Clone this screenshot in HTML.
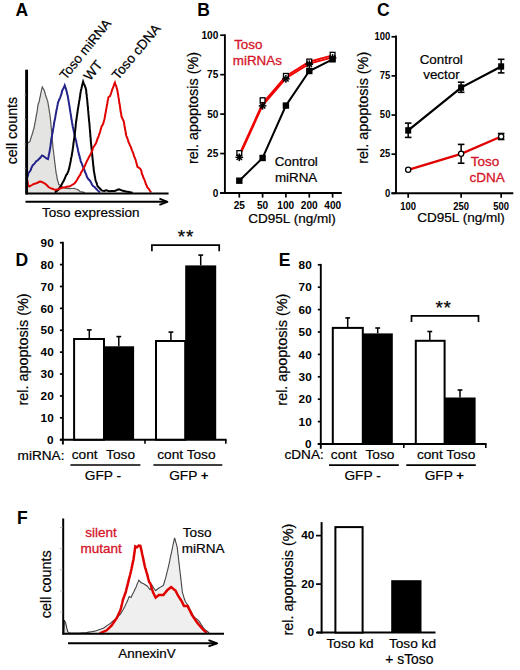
<!DOCTYPE html>
<html><head><meta charset="utf-8"><style>
html,body{margin:0;padding:0;background:#fff;}
svg{display:block;}
text{font-family:"Liberation Sans", sans-serif;}
</style></head><body>
<svg width="520" height="670" viewBox="0 0 520 670">
<rect width="520" height="670" fill="#fff"/>
<text x="15.39" y="15.90" font-size="17.5" font-weight="bold" fill="#000" >A</text>
<text x="197.27" y="15.60" font-size="17.5" font-weight="bold" fill="#000" >B</text>
<text x="376.97" y="15.60" font-size="17.5" font-weight="bold" fill="#000" >C</text>
<text x="15.47" y="265.80" font-size="17.5" font-weight="bold" fill="#000" >D</text>
<text x="278.77" y="266.00" font-size="17.5" font-weight="bold" fill="#000" >E</text>
<text x="16.97" y="524.00" font-size="17.5" font-weight="bold" fill="#000" >F</text>
<path d="M27.0,143.8 L28.4,142.5 L29.7,141.8 L30.2,140.9 L30.6,138.7 L31.1,137.9 L31.5,135.9 L32.0,135.0 L32.4,133.3 L32.8,132.7 L33.2,130.5 L33.6,129.5 L34.0,128.0 L34.3,126.5 L34.6,125.1 L34.9,123.7 L35.1,122.0 L35.4,121.2 L35.7,119.0 L36.0,118.0 L36.2,116.2 L36.5,114.5 L36.8,113.3 L37.0,112.0 L37.2,110.5 L37.4,109.6 L37.6,107.7 L37.8,106.0 L38.0,105.0 L38.5,103.1 L39.0,102.2 L39.5,100.0 L39.8,97.9 L40.2,96.8 L40.5,95.0 L40.8,93.2 L41.2,91.8 L41.5,90.0 L41.9,88.3 L42.3,87.0 L43.5,89.0 L44.5,91.0 L44.8,92.5 L45.2,93.7 L45.5,95.0 L46.0,96.5 L46.5,98.1 L47.0,99.0 L47.3,100.4 L47.7,101.3 L48.0,103.0 L48.2,104.0 L48.5,106.3 L48.8,107.3 L49.0,108.8 L49.2,110.0 L49.5,112.3 L49.8,113.5 L50.0,115.0 L50.1,116.7 L50.3,118.2 L50.4,119.1 L50.6,120.6 L50.7,122.5 L50.9,123.2 L51.0,125.0 L51.1,126.6 L51.2,127.3 L51.4,129.3 L51.5,130.7 L51.6,132.3 L51.8,133.6 L51.9,134.6 L52.0,136.0 L52.1,137.2 L52.2,138.6 L52.4,140.4 L52.5,141.9 L52.6,142.9 L52.8,145.2 L52.9,146.2 L53.0,147.7 L53.2,149.3 L53.3,150.2 L53.5,151.5 L53.7,152.7 L53.8,154.4 L54.0,155.7 L54.2,157.2 L54.3,158.5 L54.5,160.0 L54.7,161.7 L54.8,163.1 L55.0,163.7 L55.2,165.2 L55.3,166.3 L55.5,168.2 L55.7,169.8 L55.8,170.4 L56.0,172.0 L56.2,173.6 L56.5,174.5 L56.8,175.5 L57.0,177.6 L57.2,178.5 L57.5,180.0 L57.9,181.2 L58.4,183.0 L58.8,184.6 L60.4,185.5 L62.0,187.0 L63.3,187.4 L64.7,187.9 L66.0,188.5 L67.7,188.4 L69.3,188.6 L71.0,188.5 L72.7,188.5 L74.3,188.4 L76.0,189.0 L77.3,189.4 L78.7,190.3 L80.0,191.5 L81.7,191.8 L83.3,192.2 L85.0,192.5 L85,193 L27,193 Z" fill="#e4e4e2" stroke="none"/>
<path d="M27.0,143.8 L28.4,142.5 L29.7,141.8 L30.2,140.9 L30.6,138.7 L31.1,137.9 L31.5,135.9 L32.0,135.0 L32.4,133.3 L32.8,132.7 L33.2,130.5 L33.6,129.5 L34.0,128.0 L34.3,126.5 L34.6,125.1 L34.9,123.7 L35.1,122.0 L35.4,121.2 L35.7,119.0 L36.0,118.0 L36.2,116.2 L36.5,114.5 L36.8,113.3 L37.0,112.0 L37.2,110.5 L37.4,109.6 L37.6,107.7 L37.8,106.0 L38.0,105.0 L38.5,103.1 L39.0,102.2 L39.5,100.0 L39.8,97.9 L40.2,96.8 L40.5,95.0 L40.8,93.2 L41.2,91.8 L41.5,90.0 L41.9,88.3 L42.3,87.0 L43.5,89.0 L44.5,91.0 L44.8,92.5 L45.2,93.7 L45.5,95.0 L46.0,96.5 L46.5,98.1 L47.0,99.0 L47.3,100.4 L47.7,101.3 L48.0,103.0 L48.2,104.0 L48.5,106.3 L48.8,107.3 L49.0,108.8 L49.2,110.0 L49.5,112.3 L49.8,113.5 L50.0,115.0 L50.1,116.7 L50.3,118.2 L50.4,119.1 L50.6,120.6 L50.7,122.5 L50.9,123.2 L51.0,125.0 L51.1,126.6 L51.2,127.3 L51.4,129.3 L51.5,130.7 L51.6,132.3 L51.8,133.6 L51.9,134.6 L52.0,136.0 L52.1,137.2 L52.2,138.6 L52.4,140.4 L52.5,141.9 L52.6,142.9 L52.8,145.2 L52.9,146.2 L53.0,147.7 L53.2,149.3 L53.3,150.2 L53.5,151.5 L53.7,152.7 L53.8,154.4 L54.0,155.7 L54.2,157.2 L54.3,158.5 L54.5,160.0 L54.7,161.7 L54.8,163.1 L55.0,163.7 L55.2,165.2 L55.3,166.3 L55.5,168.2 L55.7,169.8 L55.8,170.4 L56.0,172.0 L56.2,173.6 L56.5,174.5 L56.8,175.5 L57.0,177.6 L57.2,178.5 L57.5,180.0 L57.9,181.2 L58.4,183.0 L58.8,184.6 L60.4,185.5 L62.0,187.0 L63.3,187.4 L64.7,187.9 L66.0,188.5 L67.7,188.4 L69.3,188.6 L71.0,188.5 L72.7,188.5 L74.3,188.4 L76.0,189.0 L77.3,189.4 L78.7,190.3 L80.0,191.5 L81.7,191.8 L83.3,192.2 L85.0,192.5" stroke="#555" stroke-width="1.2" fill="none" />
<path d="M27.0,178.0 L27.5,176.9 L28.0,175.2 L28.5,173.0 L30.5,170.5 L31.3,168.1 L32.2,166.3 L33.0,165.0 L34.5,163.7 L36.0,161.5 L37.5,160.5 L39.0,159.0 L40.5,157.5 L42.0,155.5 L43.5,156.2 L45.0,157.3 L46.5,158.3 L48.0,159.1 L48.3,157.8 L48.6,156.4 L48.9,154.4 L49.2,153.3 L49.5,152.0 L49.7,150.4 L49.9,149.4 L50.1,148.2 L50.4,146.7 L50.6,144.8 L50.8,143.2 L51.0,141.8 L51.2,140.0 L51.5,138.3 L51.8,136.8 L52.0,135.9 L52.2,134.2 L52.5,132.8 L52.8,131.9 L53.0,130.0 L53.2,128.6 L53.5,127.2 L53.8,125.4 L54.0,123.7 L54.2,122.6 L54.5,120.9 L54.8,119.9 L55.0,118.5 L55.2,117.7 L55.5,115.9 L55.8,113.9 L56.0,113.3 L56.2,111.8 L56.5,110.0 L56.8,108.9 L57.1,107.7 L57.3,106.1 L57.6,104.7 L57.9,103.0 L58.7,100.8 L59.5,99.0 L60.2,97.6 L61.0,95.0 L61.5,93.9 L62.0,91.3 L62.5,90.0 L63.2,88.8 L64.0,87.3 L64.7,85.5 L65.3,87.2 L66.0,89.0 L66.4,90.6 L66.8,92.1 L67.2,94.2 L67.6,95.2 L67.9,96.8 L68.2,98.7 L68.4,99.7 L68.7,101.9 L69.0,103.0 L69.2,105.1 L69.5,106.1 L69.7,107.8 L70.0,109.8 L70.2,111.1 L70.4,112.4 L70.7,113.7 L70.9,115.6 L71.2,117.0 L71.4,119.0 L71.7,119.9 L72.0,122.4 L72.2,123.2 L72.5,125.0 L72.8,127.0 L73.1,127.8 L73.5,130.0 L73.8,131.2 L74.1,132.5 L74.4,134.0 L74.8,135.5 L75.1,137.2 L75.5,138.6 L75.8,139.8 L76.2,141.1 L76.5,143.0 L76.8,144.4 L77.1,146.4 L77.4,147.4 L77.7,148.2 L78.0,150.5 L78.3,151.5 L78.7,153.3 L79.1,155.0 L79.5,155.6 L79.8,157.8 L80.2,158.5 L80.6,160.7 L81.0,162.0 L81.6,163.1 L82.2,164.5 L82.8,166.7 L83.4,167.1 L84.0,169.0 L84.6,170.6 L85.2,172.6 L85.8,173.5 L86.4,175.1 L87.0,177.0 L88.5,179.3 L90.0,180.7 L91.0,182.4 L92.0,184.5 L93.0,186.0 L94.6,186.9 L96.1,188.8 L97.7,190.4 L100.0,192.5" stroke="#22228a" stroke-width="2" fill="none" />
<path d="M55.0,192.5 L56.8,191.0 L58.5,189.5 L59.6,187.6 L60.6,186.3 L61.7,184.6 L62.5,182.8 L63.4,181.4 L64.2,179.8 L65.0,178.0 L65.7,176.2 L66.4,174.7 L67.1,174.1 L67.8,172.2 L68.5,171.0 L68.8,169.2 L69.2,168.5 L69.5,166.5 L69.8,165.3 L70.2,163.5 L70.5,162.0 L70.8,160.6 L71.0,158.7 L71.3,157.6 L71.6,156.4 L71.9,154.5 L72.1,153.2 L72.4,151.5 L72.6,150.3 L72.8,148.2 L73.0,147.5 L73.2,146.0 L73.4,144.3 L73.5,142.6 L73.7,142.0 L73.9,140.2 L74.1,139.0 L74.3,137.8 L74.5,136.0 L74.7,134.8 L74.8,133.6 L75.0,131.7 L75.2,130.7 L75.3,128.9 L75.5,128.0 L75.6,126.5 L75.8,124.3 L76.0,123.0 L76.1,121.6 L76.3,120.5 L76.5,119.5 L76.7,117.4 L76.9,116.1 L77.2,114.3 L77.4,113.0 L77.6,111.4 L77.8,110.0 L78.0,108.4 L78.3,107.1 L78.5,105.6 L78.7,104.4 L79.0,102.7 L79.2,101.0 L79.5,99.9 L79.7,98.2 L80.0,96.8 L80.2,94.9 L80.5,92.8 L80.7,91.9 L81.0,90.0 L81.3,89.1 L81.7,87.6 L82.0,85.9 L82.4,84.6 L82.8,82.7 L83.1,81.6 L83.8,83.6 L84.5,85.0 L85.0,86.5 L85.5,87.7 L86.0,89.4 L86.2,90.4 L86.3,92.6 L86.5,94.2 L86.7,94.7 L86.8,96.9 L87.0,98.0 L87.1,99.5 L87.3,100.7 L87.4,102.4 L87.6,104.4 L87.7,106.1 L87.9,106.8 L88.0,108.8 L88.1,110.4 L88.3,111.3 L88.4,113.4 L88.5,114.5 L88.7,116.5 L88.8,118.1 L89.0,119.1 L89.1,121.1 L89.2,121.9 L89.4,123.1 L89.5,125.0 L89.6,126.5 L89.7,127.3 L89.8,128.9 L90.0,130.5 L90.1,132.1 L90.2,133.1 L90.3,134.3 L90.4,136.6 L90.6,137.4 L90.7,139.5 L90.8,140.8 L90.9,141.8 L91.0,143.1 L91.2,144.7 L91.3,146.2 L91.5,147.8 L91.6,149.2 L91.8,150.7 L91.9,152.2 L92.1,154.0 L92.2,155.0 L92.4,156.5 L92.5,157.8 L92.7,159.6 L92.8,160.6 L93.0,162.1 L93.1,164.2 L93.3,165.2 L93.4,166.7 L93.6,167.6 L93.7,169.5 L93.9,171.0 L94.2,172.6 L94.4,173.5 L94.7,175.6 L95.0,177.1 L95.2,178.1 L95.5,180.0 L96.1,181.8 L96.7,183.2 L97.2,185.1 L97.8,186.5 L99.7,188.3 L101.6,190.4 L103.0,190.7 L104.4,190.9 L105.8,190.3 L107.2,190.5 L108.6,191.1 L110.0,191.2 L111.5,191.0 L113.0,191.0 L114.5,191.1 L116.0,190.5 L117.5,189.7 L119.0,189.4 L120.5,189.9 L122.0,190.5 L124.0,191.0 L126.0,191.5 L127.7,191.8 L129.3,192.1 L131.0,192.4 L132.7,192.7" stroke="#000" stroke-width="2" fill="none" />
<path d="M27.0,178.7 L27.2,180.0 L27.5,181.4 L27.8,183.3 L28.0,185.0 L29.3,186.5 L32.0,185.0 L33.8,183.9 L35.5,183.6 L38.0,182.5 L39.7,181.6 L41.4,181.7 L44.0,183.0 L46.2,184.6 L48.5,187.0 L51.0,188.4 L52.5,188.8 L54.0,189.4 L55.5,189.9 L56.9,189.4 L58.5,189.3 L60.0,188.5 L62.7,187.5 L64.3,187.6 L66.0,187.0 L67.8,186.4 L69.5,186.5 L72.0,185.0 L74.4,183.6 L75.7,181.8 L77.0,180.0 L78.1,178.0 L79.1,176.2 L80.2,174.9 L80.9,173.0 L81.6,171.6 L82.3,171.0 L83.0,169.0 L83.8,167.9 L84.5,166.5 L85.2,165.0 L86.0,163.2 L86.8,161.3 L87.5,159.9 L88.2,158.7 L89.0,157.0 L89.9,155.4 L90.9,153.8 L91.8,151.5 L92.4,150.5 L92.9,148.0 L93.5,147.0 L94.6,145.5 L95.7,143.8 L96.3,142.4 L96.9,140.7 L97.5,138.7 L98.1,137.5 L98.7,136.0 L99.2,133.9 L99.7,133.3 L100.2,131.6 L100.7,129.6 L101.2,127.7 L101.7,126.3 L102.7,124.8 L103.6,122.4 L103.9,120.9 L104.3,119.7 L104.7,118.0 L105.0,116.0 L105.3,114.4 L105.6,112.7 L105.9,111.3 L106.2,109.4 L106.5,107.9 L106.8,106.0 L107.0,104.6 L107.3,103.7 L107.6,101.2 L107.9,99.7 L108.1,98.9 L108.4,97.2 L110.0,96.0 L111.0,93.5 L111.7,91.2 L112.3,89.4 L113.0,87.7 L113.6,86.0 L114.2,84.1 L114.9,82.6 L115.5,84.9 L116.1,85.6 L116.6,87.6 L117.2,89.4 L117.4,90.5 L117.7,92.5 L117.9,93.5 L118.2,95.0 L118.4,96.9 L118.6,97.9 L118.9,99.6 L119.1,101.0 L119.3,103.1 L119.6,103.7 L119.8,105.3 L120.1,107.1 L120.3,109.0 L120.5,110.8 L120.8,112.2 L121.0,113.2 L121.3,114.9 L121.5,116.6 L122.1,117.7 L122.8,119.5 L123.4,120.4 L124.0,122.4 L124.2,124.1 L124.5,125.8 L124.7,127.3 L125.0,128.5 L125.2,130.2 L125.4,130.5 L125.7,132.3 L125.9,134.0 L126.4,136.0 L126.9,137.3 L127.4,138.3 L127.9,139.9 L128.5,142.0 L129.2,143.3 L129.8,145.1 L130.4,146.1 L131.1,147.6 L131.7,149.6 L132.3,151.1 L132.9,152.3 L133.5,154.1 L134.1,156.4 L134.7,157.4 L135.2,158.8 L135.7,160.0 L136.1,161.7 L136.6,163.4 L137.1,165.7 L137.6,167.0 L139.1,167.8 L140.5,169.0 L141.0,170.2 L141.5,171.4 L141.9,174.0 L142.4,174.8 L142.9,176.0 L143.4,177.8 L144.1,178.9 L144.7,180.5 L145.4,182.3 L146.0,184.5 L146.7,185.5 L147.3,187.5 L148.6,188.6 L149.9,190.8 L151.2,192.5" stroke="#e00000" stroke-width="2" fill="none" />
<line x1="26.60" y1="69.70" x2="26.60" y2="194.50" stroke="#000" stroke-width="2.9" />
<line x1="26.00" y1="193.40" x2="168.60" y2="193.40" stroke="#000" stroke-width="2" />
<line x1="24.00" y1="95.00" x2="26.00" y2="95.00" stroke="#aaa" stroke-width="0.8" />
<line x1="24.00" y1="119.50" x2="26.00" y2="119.50" stroke="#aaa" stroke-width="0.8" />
<line x1="24.00" y1="144.00" x2="26.00" y2="144.00" stroke="#aaa" stroke-width="0.8" />
<line x1="24.00" y1="168.50" x2="26.00" y2="168.50" stroke="#aaa" stroke-width="0.8" />
<line x1="25.50" y1="201.80" x2="167.00" y2="201.80" stroke="#000" stroke-width="2" />
<path d="M159.4,198.7 L167.4,201.8 L159.4,204.9" stroke="#000" stroke-width="1.9" fill="none" stroke-linejoin="round"/>
<text x="41.98" y="217.40" font-size="13.5" font-weight="normal" fill="#000" stroke="#000" stroke-width="0.2" >Toso expression</text>
<text x="0" y="0" transform="translate(17.40,164.33) rotate(-90)" font-size="14.3" font-weight="normal" fill="#000" stroke="#000" stroke-width="0.2" >cell counts</text>
<text x="0" y="0" transform="translate(65.70,80.50) rotate(-51)" font-size="13.2" font-weight="normal" fill="#000" stroke="#000" stroke-width="0.2" >Toso miRNA</text>
<text x="0" y="0" transform="translate(90.00,81.50) rotate(-51)" font-size="13.5" font-weight="normal" fill="#000" stroke="#000" stroke-width="0.2" >WT</text>
<text x="0" y="0" transform="translate(117.90,80.70) rotate(-50)" font-size="13.5" font-weight="normal" fill="#000" stroke="#000" stroke-width="0.2" >Toso cDNA</text>
<line x1="224.90" y1="34.30" x2="224.90" y2="193.90" stroke="#000" stroke-width="1.9" />
<line x1="220.00" y1="193.00" x2="341.80" y2="193.00" stroke="#000" stroke-width="1.9" />
<line x1="220.20" y1="35.20" x2="224.90" y2="35.20" stroke="#000" stroke-width="1.7" />
<text x="0" y="0" transform="translate(201.46,38.90) scale(0.92,1)" font-size="11" font-weight="bold" fill="#000" >100</text>
<line x1="220.20" y1="74.65" x2="224.90" y2="74.65" stroke="#000" stroke-width="1.7" />
<text x="0" y="0" transform="translate(207.04,78.35) scale(0.92,1)" font-size="11" font-weight="bold" fill="#000" >75</text>
<line x1="220.20" y1="114.10" x2="224.90" y2="114.10" stroke="#000" stroke-width="1.7" />
<text x="0" y="0" transform="translate(207.16,117.80) scale(0.92,1)" font-size="11" font-weight="bold" fill="#000" >50</text>
<line x1="220.20" y1="153.55" x2="224.90" y2="153.55" stroke="#000" stroke-width="1.7" />
<text x="0" y="0" transform="translate(207.04,157.25) scale(0.92,1)" font-size="11" font-weight="bold" fill="#000" >25</text>
<line x1="220.20" y1="193.00" x2="224.90" y2="193.00" stroke="#000" stroke-width="1.7" />
<text x="0" y="0" transform="translate(212.64,196.70) scale(0.92,1)" font-size="11" font-weight="bold" fill="#000" >0</text>
<line x1="239.30" y1="193.00" x2="239.30" y2="197.60" stroke="#000" stroke-width="1.7" />
<text x="0" y="0" transform="translate(233.66,208.90) scale(0.92,1)" font-size="11" font-weight="bold" fill="#000" >25</text>
<line x1="262.60" y1="193.00" x2="262.60" y2="197.60" stroke="#000" stroke-width="1.7" />
<text x="0" y="0" transform="translate(256.89,208.90) scale(0.92,1)" font-size="11" font-weight="bold" fill="#000" >50</text>
<line x1="285.90" y1="193.00" x2="285.90" y2="197.60" stroke="#000" stroke-width="1.7" />
<text x="0" y="0" transform="translate(277.27,208.90) scale(0.92,1)" font-size="11" font-weight="bold" fill="#000" >100</text>
<line x1="309.30" y1="193.00" x2="309.30" y2="197.60" stroke="#000" stroke-width="1.7" />
<text x="0" y="0" transform="translate(300.87,208.90) scale(0.92,1)" font-size="11" font-weight="bold" fill="#000" >200</text>
<line x1="332.60" y1="193.00" x2="332.60" y2="197.60" stroke="#000" stroke-width="1.7" />
<text x="0" y="0" transform="translate(324.27,208.90) scale(0.92,1)" font-size="11" font-weight="bold" fill="#000" >400</text>
<text x="248.23" y="223.30" font-size="13.55" font-weight="normal" fill="#000" stroke="#000" stroke-width="0.2" >CD95L (ng/ml)</text>
<text x="0" y="0" transform="translate(198.10,163.96) rotate(-90)" font-size="14.4" font-weight="normal" fill="#000" stroke="#000" stroke-width="0.2" >rel. apoptosis (%)</text>
<path d="M239.3,154.7 L262.6,103.3 L285.9,76.3 L309.3,61.6 L332.6,55.3" stroke="#f00000" stroke-width="1.8" fill="none" />
<path d="M239.3,156.7 L262.6,105.3 L285.9,78.3 L309.3,63.6 L332.6,57.3" stroke="#f00000" stroke-width="1.9" fill="none" />
<path d="M239.3,180.7 L262.6,158.0 L285.9,105.6 L309.3,71.0 L332.6,59.3" stroke="#000" stroke-width="2" fill="none" />
<rect x="236.10" y="177.49" width="6.40" height="6.40" fill="#000"/>
<rect x="259.40" y="154.77" width="6.40" height="6.40" fill="#000"/>
<rect x="282.70" y="102.38" width="6.40" height="6.40" fill="#000"/>
<rect x="306.10" y="67.82" width="6.40" height="6.40" fill="#000"/>
<rect x="329.40" y="56.14" width="6.40" height="6.40" fill="#000"/>
<rect x="236.90" y="150.65" width="4.8" height="4.8" fill="#fff" stroke="#000" stroke-width="1.3"/>
<rect x="260.20" y="97.78" width="4.8" height="4.8" fill="#fff" stroke="#000" stroke-width="1.3"/>
<rect x="283.50" y="73.48" width="4.8" height="4.8" fill="#fff" stroke="#000" stroke-width="1.3"/>
<rect x="306.90" y="59.12" width="4.8" height="4.8" fill="#fff" stroke="#000" stroke-width="1.3"/>
<rect x="330.20" y="52.34" width="4.8" height="4.8" fill="#fff" stroke="#000" stroke-width="1.3"/>
<line x1="235.50" y1="157.31" x2="243.10" y2="157.31" stroke="#000" stroke-width="1.5" />
<line x1="236.61" y1="154.62" x2="241.99" y2="159.99" stroke="#000" stroke-width="1.5" />
<line x1="239.30" y1="153.51" x2="239.30" y2="161.11" stroke="#000" stroke-width="1.5" />
<line x1="241.99" y1="154.62" x2="236.61" y2="159.99" stroke="#000" stroke-width="1.5" />
<line x1="258.80" y1="105.86" x2="266.40" y2="105.86" stroke="#000" stroke-width="1.5" />
<line x1="259.91" y1="103.18" x2="265.29" y2="108.55" stroke="#000" stroke-width="1.5" />
<line x1="262.60" y1="102.06" x2="262.60" y2="109.66" stroke="#000" stroke-width="1.5" />
<line x1="265.29" y1="103.18" x2="259.91" y2="108.55" stroke="#000" stroke-width="1.5" />
<line x1="282.10" y1="78.88" x2="289.70" y2="78.88" stroke="#000" stroke-width="1.5" />
<line x1="283.21" y1="76.19" x2="288.59" y2="81.57" stroke="#000" stroke-width="1.5" />
<line x1="285.90" y1="75.08" x2="285.90" y2="82.68" stroke="#000" stroke-width="1.5" />
<line x1="288.59" y1="76.19" x2="283.21" y2="81.57" stroke="#000" stroke-width="1.5" />
<line x1="305.50" y1="64.20" x2="313.10" y2="64.20" stroke="#000" stroke-width="1.5" />
<line x1="306.61" y1="61.52" x2="311.99" y2="66.89" stroke="#000" stroke-width="1.5" />
<line x1="309.30" y1="60.40" x2="309.30" y2="68.00" stroke="#000" stroke-width="1.5" />
<line x1="311.99" y1="61.52" x2="306.61" y2="66.89" stroke="#000" stroke-width="1.5" />
<line x1="328.80" y1="57.89" x2="336.40" y2="57.89" stroke="#000" stroke-width="1.5" />
<line x1="329.91" y1="55.20" x2="335.29" y2="60.58" stroke="#000" stroke-width="1.5" />
<line x1="332.60" y1="54.09" x2="332.60" y2="61.69" stroke="#000" stroke-width="1.5" />
<line x1="335.29" y1="55.20" x2="329.91" y2="60.58" stroke="#000" stroke-width="1.5" />
<text x="234.14" y="49.20" font-size="13.4" font-weight="normal" fill="#d41428" stroke="#d41428" stroke-width="0.3" >Toso</text>
<text x="232.77" y="65.00" font-size="13.4" font-weight="normal" fill="#d41428" stroke="#d41428" stroke-width="0.3" >miRNAs</text>
<text x="274.66" y="165.80" font-size="13.4" font-weight="normal" fill="#000" stroke="#000" stroke-width="0.2" >Control</text>
<text x="274.89" y="181.70" font-size="13.4" font-weight="normal" fill="#000" stroke="#000" stroke-width="0.2" >miRNA</text>
<line x1="396.00" y1="35.50" x2="396.00" y2="194.00" stroke="#000" stroke-width="1.9" />
<line x1="391.50" y1="193.30" x2="513.30" y2="193.30" stroke="#000" stroke-width="1.9" />
<line x1="391.50" y1="36.78" x2="396.00" y2="36.78" stroke="#000" stroke-width="1.7" />
<text x="0" y="0" transform="translate(374.54,40.08) scale(0.86,1)" font-size="11" font-weight="bold" fill="#000" >100</text>
<line x1="391.50" y1="75.91" x2="396.00" y2="75.91" stroke="#000" stroke-width="1.7" />
<text x="0" y="0" transform="translate(379.76,79.21) scale(0.86,1)" font-size="11" font-weight="bold" fill="#000" >75</text>
<line x1="391.50" y1="115.04" x2="396.00" y2="115.04" stroke="#000" stroke-width="1.7" />
<text x="0" y="0" transform="translate(379.87,118.34) scale(0.86,1)" font-size="11" font-weight="bold" fill="#000" >50</text>
<line x1="391.50" y1="154.17" x2="396.00" y2="154.17" stroke="#000" stroke-width="1.7" />
<text x="0" y="0" transform="translate(379.76,157.47) scale(0.86,1)" font-size="11" font-weight="bold" fill="#000" >25</text>
<line x1="391.50" y1="193.30" x2="396.00" y2="193.30" stroke="#000" stroke-width="1.7" />
<text x="0" y="0" transform="translate(384.99,196.60) scale(0.86,1)" font-size="11" font-weight="bold" fill="#000" >0</text>
<line x1="408.20" y1="193.30" x2="408.20" y2="197.80" stroke="#000" stroke-width="1.7" />
<text x="0" y="0" transform="translate(400.13,209.90) scale(0.86,1)" font-size="11" font-weight="bold" fill="#000" >100</text>
<line x1="461.13" y1="193.30" x2="461.13" y2="197.80" stroke="#000" stroke-width="1.7" />
<text x="0" y="0" transform="translate(453.24,209.90) scale(0.86,1)" font-size="11" font-weight="bold" fill="#000" >250</text>
<line x1="501.16" y1="193.30" x2="501.16" y2="197.80" stroke="#000" stroke-width="1.7" />
<text x="0" y="0" transform="translate(493.16,209.90) scale(0.86,1)" font-size="11" font-weight="bold" fill="#000" >500</text>
<text x="417.23" y="221.90" font-size="13.55" font-weight="normal" fill="#000" stroke="#000" stroke-width="0.2" >CD95L (ng/ml)</text>
<text x="0" y="0" transform="translate(367.80,163.76) rotate(-90)" font-size="14.4" font-weight="normal" fill="#000" stroke="#000" stroke-width="0.2" >rel. apoptosis (%)</text>
<path d="M408.2,130.4 L461.1,87.6 L501.2,66.5" stroke="#000" stroke-width="2.3" fill="none" />
<path d="M408.2,169.8 L461.1,153.8 L501.2,136.5" stroke="#e00000" stroke-width="2.3" fill="none" />
<line x1="408.20" y1="123.10" x2="408.20" y2="137.40" stroke="#000" stroke-width="1.5" />
<line x1="404.90" y1="123.10" x2="411.50" y2="123.10" stroke="#000" stroke-width="1.6" />
<line x1="404.90" y1="137.40" x2="411.50" y2="137.40" stroke="#000" stroke-width="1.6" />
<line x1="461.13" y1="82.20" x2="461.13" y2="92.30" stroke="#000" stroke-width="1.5" />
<line x1="457.83" y1="82.20" x2="464.43" y2="82.20" stroke="#000" stroke-width="1.6" />
<line x1="457.83" y1="92.30" x2="464.43" y2="92.30" stroke="#000" stroke-width="1.6" />
<line x1="501.16" y1="59.30" x2="501.16" y2="72.90" stroke="#000" stroke-width="1.5" />
<line x1="497.86" y1="59.30" x2="504.46" y2="59.30" stroke="#000" stroke-width="1.6" />
<line x1="497.86" y1="72.90" x2="504.46" y2="72.90" stroke="#000" stroke-width="1.6" />
<line x1="461.13" y1="144.40" x2="461.13" y2="163.20" stroke="#000" stroke-width="1.5" />
<line x1="457.83" y1="144.40" x2="464.43" y2="144.40" stroke="#000" stroke-width="1.6" />
<line x1="457.83" y1="163.20" x2="464.43" y2="163.20" stroke="#000" stroke-width="1.6" />
<line x1="501.16" y1="133.50" x2="501.16" y2="139.50" stroke="#000" stroke-width="1.5" />
<line x1="497.86" y1="133.50" x2="504.46" y2="133.50" stroke="#000" stroke-width="1.6" />
<line x1="497.86" y1="139.50" x2="504.46" y2="139.50" stroke="#000" stroke-width="1.6" />
<rect x="405.20" y="127.20" width="6.00" height="6.40" fill="#000"/>
<rect x="458.13" y="84.40" width="6.00" height="6.40" fill="#000"/>
<rect x="498.16" y="63.30" width="6.00" height="6.40" fill="#000"/>
<circle cx="408.20" cy="169.8" r="2.6" fill="#fff" stroke="#000" stroke-width="1.3"/>
<circle cx="461.13" cy="153.8" r="2.6" fill="#fff" stroke="#000" stroke-width="1.3"/>
<circle cx="501.16" cy="136.5" r="2.6" fill="#fff" stroke="#000" stroke-width="1.3"/>
<text x="419.66" y="63.80" font-size="13.4" font-weight="normal" fill="#000" stroke="#000" stroke-width="0.2" >Control</text>
<text x="423.23" y="79.10" font-size="13.4" font-weight="normal" fill="#000" stroke="#000" stroke-width="0.2" >vector</text>
<text x="470.73" y="166.00" font-size="13.5" font-weight="normal" fill="#d41428" stroke="#d41428" stroke-width="0.3" >Toso</text>
<text x="469.44" y="182.00" font-size="13.5" font-weight="normal" fill="#d41428" stroke="#d41428" stroke-width="0.3" >cDNA</text>
<line x1="62.90" y1="241.79" x2="62.90" y2="444.50" stroke="#000" stroke-width="1.9" />
<line x1="59.90" y1="439.70" x2="226.60" y2="439.70" stroke="#000" stroke-width="1.9" />
<line x1="59.90" y1="439.70" x2="62.90" y2="439.70" stroke="#000" stroke-width="1.7" />
<text x="0" y="0" transform="translate(46.97,443.90) scale(1.07,1)" font-size="11" font-weight="bold" fill="#000" >0</text>
<line x1="59.90" y1="417.81" x2="62.90" y2="417.81" stroke="#000" stroke-width="1.7" />
<text x="0" y="0" transform="translate(40.59,422.01) scale(1.07,1)" font-size="11" font-weight="bold" fill="#000" >10</text>
<line x1="59.90" y1="395.92" x2="62.90" y2="395.92" stroke="#000" stroke-width="1.7" />
<text x="0" y="0" transform="translate(40.59,400.12) scale(1.07,1)" font-size="11" font-weight="bold" fill="#000" >20</text>
<line x1="59.90" y1="374.03" x2="62.90" y2="374.03" stroke="#000" stroke-width="1.7" />
<text x="0" y="0" transform="translate(40.59,378.23) scale(1.07,1)" font-size="11" font-weight="bold" fill="#000" >30</text>
<line x1="59.90" y1="352.14" x2="62.90" y2="352.14" stroke="#000" stroke-width="1.7" />
<text x="0" y="0" transform="translate(40.59,356.34) scale(1.07,1)" font-size="11" font-weight="bold" fill="#000" >40</text>
<line x1="59.90" y1="330.25" x2="62.90" y2="330.25" stroke="#000" stroke-width="1.7" />
<text x="0" y="0" transform="translate(40.59,334.45) scale(1.07,1)" font-size="11" font-weight="bold" fill="#000" >50</text>
<line x1="59.90" y1="308.36" x2="62.90" y2="308.36" stroke="#000" stroke-width="1.7" />
<text x="0" y="0" transform="translate(40.58,312.56) scale(1.07,1)" font-size="11" font-weight="bold" fill="#000" >60</text>
<line x1="59.90" y1="286.47" x2="62.90" y2="286.47" stroke="#000" stroke-width="1.7" />
<text x="0" y="0" transform="translate(40.59,290.67) scale(1.07,1)" font-size="11" font-weight="bold" fill="#000" >70</text>
<line x1="59.90" y1="264.58" x2="62.90" y2="264.58" stroke="#000" stroke-width="1.7" />
<text x="0" y="0" transform="translate(40.59,268.78) scale(1.07,1)" font-size="11" font-weight="bold" fill="#000" >80</text>
<line x1="59.90" y1="242.69" x2="62.90" y2="242.69" stroke="#000" stroke-width="1.7" />
<text x="0" y="0" transform="translate(40.59,246.89) scale(1.07,1)" font-size="11" font-weight="bold" fill="#000" >90</text>
<line x1="145.00" y1="439.70" x2="145.00" y2="443.70" stroke="#000" stroke-width="1.6" />
<line x1="225.80" y1="439.70" x2="225.80" y2="443.70" stroke="#000" stroke-width="1.6" />
<line x1="89.30" y1="329.90" x2="89.30" y2="339.00" stroke="#000" stroke-width="1.5" />
<line x1="86.90" y1="329.90" x2="91.70" y2="329.90" stroke="#000" stroke-width="1.6" />
<rect x="74.10" y="339.00" width="29.90" height="100.70" fill="#fff" stroke="#000" stroke-width="2"/>
<line x1="118.80" y1="336.60" x2="118.80" y2="346.30" stroke="#000" stroke-width="1.5" />
<line x1="116.40" y1="336.60" x2="121.20" y2="336.60" stroke="#000" stroke-width="1.6" />
<rect x="104.00" y="346.30" width="30.10" height="93.40" fill="#000"/>
<line x1="170.90" y1="332.10" x2="170.90" y2="341.00" stroke="#000" stroke-width="1.5" />
<line x1="168.50" y1="332.10" x2="173.30" y2="332.10" stroke="#000" stroke-width="1.6" />
<rect x="156.00" y="341.00" width="29.20" height="98.70" fill="#fff" stroke="#000" stroke-width="2"/>
<line x1="200.70" y1="255.10" x2="200.70" y2="265.40" stroke="#000" stroke-width="1.5" />
<line x1="198.30" y1="255.10" x2="203.10" y2="255.10" stroke="#000" stroke-width="1.6" />
<rect x="185.20" y="265.40" width="31.00" height="174.30" fill="#000"/>
<path d="M151.9,251.3 L151.9,245.1 L219.2,245.1 L219.2,251.3" stroke="#000" stroke-width="1.7" fill="none" />
<text x="177.70" y="243.10" font-size="19" font-weight="normal" fill="#000" stroke="#000" stroke-width="0.2" >*</text>
<text x="186.00" y="243.10" font-size="19" font-weight="normal" fill="#000" stroke="#000" stroke-width="0.2" >*</text>
<text x="17.62" y="459.80" font-size="13.6" font-weight="normal" fill="#000" stroke="#000" stroke-width="0.2" >miRNA:</text>
<text x="71.75" y="458.80" font-size="13.7" font-weight="normal" fill="#000" stroke="#000" stroke-width="0.2" >cont</text>
<text x="106.11" y="458.80" font-size="13.7" font-weight="normal" fill="#000" stroke="#000" stroke-width="0.2" >Toso</text>
<text x="157.22" y="458.80" font-size="13.7" font-weight="normal" fill="#000" stroke="#000" stroke-width="0.2" >cont Toso</text>
<line x1="70.40" y1="465.00" x2="140.40" y2="465.00" stroke="#000" stroke-width="1.7" />
<line x1="153.40" y1="465.00" x2="222.30" y2="465.00" stroke="#000" stroke-width="1.7" />
<text x="84.77" y="479.60" font-size="13.7" font-weight="normal" fill="#000" stroke="#000" stroke-width="0.2" >GFP -</text>
<text x="169.18" y="479.60" font-size="13.7" font-weight="normal" fill="#000" stroke="#000" stroke-width="0.2" >GFP</text>
<text x="0" y="0" transform="translate(27.50,405.46) rotate(-90)" font-size="14.4" font-weight="normal" fill="#000" stroke="#000" stroke-width="0.2" >rel. apoptosis (%)</text>
<text x="200.67" y="479.60" font-size="13.2" font-weight="bold" fill="#000" >+</text>
<line x1="320.80" y1="263.90" x2="320.80" y2="448.80" stroke="#000" stroke-width="1.9" />
<line x1="317.80" y1="444.00" x2="486.60" y2="444.00" stroke="#000" stroke-width="1.9" />
<line x1="317.80" y1="444.00" x2="320.80" y2="444.00" stroke="#000" stroke-width="1.7" />
<text x="0" y="0" transform="translate(304.97,448.20) scale(1.07,1)" font-size="11" font-weight="bold" fill="#000" >0</text>
<line x1="317.80" y1="421.60" x2="320.80" y2="421.60" stroke="#000" stroke-width="1.7" />
<text x="0" y="0" transform="translate(298.59,425.80) scale(1.07,1)" font-size="11" font-weight="bold" fill="#000" >10</text>
<line x1="317.80" y1="399.20" x2="320.80" y2="399.20" stroke="#000" stroke-width="1.7" />
<text x="0" y="0" transform="translate(298.59,403.40) scale(1.07,1)" font-size="11" font-weight="bold" fill="#000" >20</text>
<line x1="317.80" y1="376.80" x2="320.80" y2="376.80" stroke="#000" stroke-width="1.7" />
<text x="0" y="0" transform="translate(298.59,381.00) scale(1.07,1)" font-size="11" font-weight="bold" fill="#000" >30</text>
<line x1="317.80" y1="354.40" x2="320.80" y2="354.40" stroke="#000" stroke-width="1.7" />
<text x="0" y="0" transform="translate(298.59,358.60) scale(1.07,1)" font-size="11" font-weight="bold" fill="#000" >40</text>
<line x1="317.80" y1="332.00" x2="320.80" y2="332.00" stroke="#000" stroke-width="1.7" />
<text x="0" y="0" transform="translate(298.59,336.20) scale(1.07,1)" font-size="11" font-weight="bold" fill="#000" >50</text>
<line x1="317.80" y1="309.60" x2="320.80" y2="309.60" stroke="#000" stroke-width="1.7" />
<text x="0" y="0" transform="translate(298.58,313.80) scale(1.07,1)" font-size="11" font-weight="bold" fill="#000" >60</text>
<line x1="317.80" y1="287.20" x2="320.80" y2="287.20" stroke="#000" stroke-width="1.7" />
<text x="0" y="0" transform="translate(298.59,291.40) scale(1.07,1)" font-size="11" font-weight="bold" fill="#000" >70</text>
<line x1="317.80" y1="264.80" x2="320.80" y2="264.80" stroke="#000" stroke-width="1.7" />
<text x="0" y="0" transform="translate(298.59,269.00) scale(1.07,1)" font-size="11" font-weight="bold" fill="#000" >80</text>
<line x1="403.80" y1="444.00" x2="403.80" y2="448.00" stroke="#000" stroke-width="1.6" />
<line x1="485.80" y1="444.00" x2="485.80" y2="448.00" stroke="#000" stroke-width="1.6" />
<line x1="347.70" y1="317.90" x2="347.70" y2="327.90" stroke="#000" stroke-width="1.5" />
<line x1="345.30" y1="317.90" x2="350.10" y2="317.90" stroke="#000" stroke-width="1.6" />
<rect x="332.80" y="327.90" width="30.00" height="116.10" fill="#fff" stroke="#000" stroke-width="2"/>
<line x1="377.70" y1="328.00" x2="377.70" y2="333.40" stroke="#000" stroke-width="1.5" />
<line x1="375.30" y1="328.00" x2="380.10" y2="328.00" stroke="#000" stroke-width="1.6" />
<rect x="362.80" y="333.40" width="30.00" height="110.60" fill="#000"/>
<line x1="429.80" y1="331.50" x2="429.80" y2="340.80" stroke="#000" stroke-width="1.5" />
<line x1="427.40" y1="331.50" x2="432.20" y2="331.50" stroke="#000" stroke-width="1.6" />
<rect x="415.80" y="340.80" width="28.80" height="103.20" fill="#fff" stroke="#000" stroke-width="2"/>
<line x1="460.00" y1="390.00" x2="460.00" y2="397.50" stroke="#000" stroke-width="1.5" />
<line x1="457.60" y1="390.00" x2="462.40" y2="390.00" stroke="#000" stroke-width="1.6" />
<rect x="444.60" y="397.50" width="31.00" height="46.50" fill="#000"/>
<path d="M411.5,322 L411.5,315.8 L478.5,315.8 L478.5,322" stroke="#000" stroke-width="1.7" fill="none" />
<text x="435.40" y="314.10" font-size="19" font-weight="normal" fill="#000" stroke="#000" stroke-width="0.2" >*</text>
<text x="443.50" y="314.10" font-size="19" font-weight="normal" fill="#000" stroke="#000" stroke-width="0.2" >*</text>
<text x="284.49" y="458.90" font-size="13.6" font-weight="normal" fill="#000" stroke="#000" stroke-width="0.2" >cDNA:</text>
<text x="330.85" y="458.90" font-size="13.7" font-weight="normal" fill="#000" stroke="#000" stroke-width="0.2" >cont</text>
<text x="365.51" y="458.90" font-size="13.7" font-weight="normal" fill="#000" stroke="#000" stroke-width="0.2" >Toso</text>
<text x="416.92" y="458.90" font-size="13.7" font-weight="normal" fill="#000" stroke="#000" stroke-width="0.2" >cont Toso</text>
<line x1="329.00" y1="465.20" x2="398.80" y2="465.20" stroke="#000" stroke-width="1.7" />
<line x1="406.30" y1="465.20" x2="475.80" y2="465.20" stroke="#000" stroke-width="1.7" />
<text x="344.47" y="479.60" font-size="13.7" font-weight="normal" fill="#000" stroke="#000" stroke-width="0.2" >GFP -</text>
<text x="424.63" y="479.80" font-size="13.7" font-weight="normal" fill="#000" stroke="#000" stroke-width="0.2" >GFP</text>
<text x="0" y="0" transform="translate(287.00,405.66) rotate(-90)" font-size="14.4" font-weight="normal" fill="#000" stroke="#000" stroke-width="0.2" >rel. apoptosis (%)</text>
<text x="456.37" y="479.80" font-size="13.2" font-weight="bold" fill="#000" >+</text>
<path d="M63.5,633.0 L63.6,631.7 L63.7,630.4 L63.7,629.1 L63.8,627.8 L63.9,626.5 L64.0,625.2 L64.1,623.9 L64.1,622.6 L64.2,621.3 L64.3,620.0 L64.6,621.5 L64.9,623.0 L65.2,624.5 L65.5,626.0 L65.8,627.5 L66.2,629.0 L66.6,630.5 L66.9,632.0 L68.5,632.5 L70.0,633.0 L71.4,633.0 L72.9,633.0 L74.3,633.0 L75.7,633.0 L77.1,633.0 L78.6,633.0 L80.0,633.0 L81.5,632.9 L83.0,632.8 L84.5,632.7 L86.0,632.6 L87.4,632.4 L88.9,632.1 L90.3,631.9 L91.7,631.7 L93.2,631.4 L94.6,631.2 L96.0,630.7 L97.5,630.2 L98.9,629.7 L100.4,629.2 L101.8,628.7 L103.3,628.2 L104.7,627.3 L106.1,626.3 L107.4,625.4 L108.8,624.4 L110.2,623.5 L111.5,622.4 L112.8,621.2 L114.1,620.1 L115.4,619.0 L117.1,617.3 L118.9,615.7 L120.6,614.0 L121.4,612.5 L122.3,611.0 L123.2,609.4 L124.0,607.9 L124.9,606.2 L125.7,604.4 L126.6,602.7 L127.2,601.2 L127.9,599.7 L128.5,598.1 L129.2,596.6 L131.0,597.5 L131.8,595.8 L132.7,594.0 L133.4,592.6 L134.1,591.2 L134.7,589.8 L135.4,588.4 L136.1,587.0 L136.6,585.6 L137.1,584.3 L137.7,582.9 L138.2,581.6 L138.7,580.2 L140.0,581.5 L141.3,582.8 L143.1,583.6 L144.8,584.5 L147.4,586.2 L148.7,588.0 L150.0,589.7 L150.7,588.3 L151.4,586.8 L152.1,585.4 L153.0,586.7 L153.8,588.0 L154.7,589.3 L155.6,590.6 L157.3,589.3 L159.0,588.0 L160.5,587.1 L161.9,586.3 L163.4,585.4 L163.8,584.0 L164.3,582.5 L164.7,581.0 L165.1,579.6 L165.6,578.2 L166.0,576.7 L166.3,575.4 L166.6,574.1 L166.9,572.8 L167.2,571.5 L167.6,570.2 L167.9,568.9 L168.2,567.6 L168.5,566.3 L168.8,565.0 L169.1,563.6 L169.4,562.3 L169.7,560.9 L169.9,559.6 L170.2,558.2 L170.5,556.9 L170.8,555.5 L171.1,554.2 L171.4,552.8 L171.7,551.5 L172.0,550.1 L172.3,548.7 L172.6,547.4 L172.8,546.0 L173.1,544.6 L173.4,543.3 L173.7,541.9 L174.0,540.5 L174.3,539.2 L174.6,537.8 L175.0,539.2 L175.3,540.5 L175.7,541.9 L176.1,543.2 L176.5,544.6 L176.8,545.9 L177.2,547.3 L177.4,548.6 L177.5,549.9 L177.7,551.3 L177.8,552.6 L178.0,553.9 L178.1,555.2 L178.3,556.6 L178.4,557.9 L178.6,559.2 L178.7,560.5 L178.9,561.9 L179.0,563.2 L179.2,564.5 L179.3,565.8 L179.5,567.2 L179.6,568.5 L179.8,569.8 L180.0,571.1 L180.1,572.4 L180.3,573.8 L180.4,575.1 L180.6,576.4 L180.7,577.7 L180.9,579.1 L181.0,580.4 L181.2,581.7 L181.3,583.0 L181.5,584.4 L181.6,585.7 L181.8,587.0 L181.9,588.3 L182.1,589.7 L182.2,591.0 L182.4,592.3 L182.8,593.7 L183.3,595.2 L183.7,596.6 L184.1,598.0 L184.6,599.5 L185.0,600.9 L185.8,602.2 L186.7,603.5 L187.6,604.8 L188.4,606.1 L189.1,607.6 L189.9,609.1 L190.6,610.6 L191.4,612.0 L192.1,613.5 L192.9,615.0 L193.6,616.5 L194.9,617.6 L196.2,618.6 L197.5,619.7 L198.8,620.8 L199.7,622.1 L200.5,623.4 L201.4,624.7 L202.3,626.0 L203.1,627.3 L204.0,628.6 L205.7,630.1 L207.5,631.5 L209.2,633.0 Z" fill="#efefef" stroke="none"/>
<path d="M63.5,633.0 L63.6,631.7 L63.7,630.4 L63.7,629.1 L63.8,627.8 L63.9,626.5 L64.0,625.2 L64.1,623.9 L64.1,622.6 L64.2,621.3 L64.3,620.0 L64.6,621.5 L64.9,623.0 L65.2,624.5 L65.5,626.0 L65.8,627.5 L66.2,629.0 L66.6,630.5 L66.9,632.0 L68.5,632.5 L70.0,633.0 L71.4,633.0 L72.9,633.0 L74.3,633.0 L75.7,633.0 L77.1,633.0 L78.6,633.0 L80.0,633.0 L81.5,632.9 L83.0,632.8 L84.5,632.7 L86.0,632.6 L87.4,632.4 L88.9,632.1 L90.3,631.9 L91.7,631.7 L93.2,631.4 L94.6,631.2 L96.0,630.7 L97.5,630.2 L98.9,629.7 L100.4,629.2 L101.8,628.7 L103.3,628.2 L104.7,627.3 L106.1,626.3 L107.4,625.4 L108.8,624.4 L110.2,623.5 L111.5,622.4 L112.8,621.2 L114.1,620.1 L115.4,619.0 L117.1,617.3 L118.9,615.7 L120.6,614.0 L121.4,612.5 L122.3,611.0 L123.2,609.4 L124.0,607.9 L124.9,606.2 L125.7,604.4 L126.6,602.7 L127.2,601.2 L127.9,599.7 L128.5,598.1 L129.2,596.6 L131.0,597.5 L131.8,595.8 L132.7,594.0 L133.4,592.6 L134.1,591.2 L134.7,589.8 L135.4,588.4 L136.1,587.0 L136.6,585.6 L137.1,584.3 L137.7,582.9 L138.2,581.6 L138.7,580.2 L140.0,581.5 L141.3,582.8 L143.1,583.6 L144.8,584.5 L147.4,586.2 L148.7,588.0 L150.0,589.7 L150.7,588.3 L151.4,586.8 L152.1,585.4 L153.0,586.7 L153.8,588.0 L154.7,589.3 L155.6,590.6 L157.3,589.3 L159.0,588.0 L160.5,587.1 L161.9,586.3 L163.4,585.4 L163.8,584.0 L164.3,582.5 L164.7,581.0 L165.1,579.6 L165.6,578.2 L166.0,576.7 L166.3,575.4 L166.6,574.1 L166.9,572.8 L167.2,571.5 L167.6,570.2 L167.9,568.9 L168.2,567.6 L168.5,566.3 L168.8,565.0 L169.1,563.6 L169.4,562.3 L169.7,560.9 L169.9,559.6 L170.2,558.2 L170.5,556.9 L170.8,555.5 L171.1,554.2 L171.4,552.8 L171.7,551.5 L172.0,550.1 L172.3,548.7 L172.6,547.4 L172.8,546.0 L173.1,544.6 L173.4,543.3 L173.7,541.9 L174.0,540.5 L174.3,539.2 L174.6,537.8 L175.0,539.2 L175.3,540.5 L175.7,541.9 L176.1,543.2 L176.5,544.6 L176.8,545.9 L177.2,547.3 L177.4,548.6 L177.5,549.9 L177.7,551.3 L177.8,552.6 L178.0,553.9 L178.1,555.2 L178.3,556.6 L178.4,557.9 L178.6,559.2 L178.7,560.5 L178.9,561.9 L179.0,563.2 L179.2,564.5 L179.3,565.8 L179.5,567.2 L179.6,568.5 L179.8,569.8 L180.0,571.1 L180.1,572.4 L180.3,573.8 L180.4,575.1 L180.6,576.4 L180.7,577.7 L180.9,579.1 L181.0,580.4 L181.2,581.7 L181.3,583.0 L181.5,584.4 L181.6,585.7 L181.8,587.0 L181.9,588.3 L182.1,589.7 L182.2,591.0 L182.4,592.3 L182.8,593.7 L183.3,595.2 L183.7,596.6 L184.1,598.0 L184.6,599.5 L185.0,600.9 L185.8,602.2 L186.7,603.5 L187.6,604.8 L188.4,606.1 L189.1,607.6 L189.9,609.1 L190.6,610.6 L191.4,612.0 L192.1,613.5 L192.9,615.0 L193.6,616.5 L194.9,617.6 L196.2,618.6 L197.5,619.7 L198.8,620.8 L199.7,622.1 L200.5,623.4 L201.4,624.7 L202.3,626.0 L203.1,627.3 L204.0,628.6 L205.7,630.1 L207.5,631.5 L209.2,633.0" stroke="#444" stroke-width="1.1" fill="none" />
<path d="M63.8,633 L64.3,620.3 L65.6,622.5 L66.5,627 L67.8,631.8 L69.5,633" fill="#ddd" stroke="#222" stroke-width="1"/>
<path d="M99.8,633.5 L101.5,632.7 L103.2,631.9 L105.0,631.1 L106.7,630.3 L108.4,628.6 L110.2,626.9 L111.9,625.2 L112.9,623.6 L114.0,622.1 L115.0,620.5 L116.1,619.0 L117.1,617.4 L117.8,615.8 L118.5,614.3 L119.2,612.7 L119.9,611.2 L120.6,609.6 L121.0,608.1 L121.3,606.6 L121.7,605.1 L122.0,603.7 L122.4,602.2 L122.7,600.7 L123.1,599.2 L123.8,597.5 L124.4,595.8 L125.0,594.0 L125.7,592.3 L126.1,590.8 L126.4,589.3 L126.8,587.8 L127.2,586.4 L127.6,584.9 L127.9,583.4 L128.3,581.9 L128.7,580.4 L129.0,578.9 L129.4,577.4 L129.8,576.0 L130.2,574.5 L130.5,573.0 L130.9,571.5 L131.2,570.0 L131.6,568.5 L131.9,567.0 L132.2,565.5 L132.5,563.9 L132.8,562.4 L133.2,560.9 L133.5,559.4 L133.7,558.0 L133.9,556.5 L134.1,555.1 L134.3,553.6 L134.5,552.2 L134.7,550.7 L134.9,549.3 L135.1,547.8 L135.3,546.4 L137.0,547.3 L138.7,545.6 L140.4,545.9 L140.7,547.4 L141.1,548.9 L141.4,550.3 L141.7,551.8 L142.0,553.3 L142.3,554.8 L142.7,556.2 L143.0,557.7 L143.3,559.1 L143.6,560.6 L143.9,562.0 L144.2,563.4 L144.5,564.9 L144.8,566.3 L145.2,567.8 L145.7,569.2 L146.1,570.6 L146.5,572.1 L147.0,573.5 L147.4,575.0 L147.8,576.7 L148.2,578.5 L148.7,580.2 L149.1,581.9 L150.4,583.6 L150.8,585.0 L151.3,586.5 L151.7,588.0 L152.1,589.4 L152.6,590.8 L153.0,592.3 L153.9,594.0 L154.7,595.8 L155.6,597.5 L157.3,596.2 L159.0,594.9 L160.5,594.9 L161.9,594.9 L163.4,594.9 L164.8,593.2 L166.3,591.4 L167.7,589.7 L169.4,588.4 L171.1,587.1 L172.6,588.3 L174.0,589.4 L175.5,590.6 L176.4,592.3 L177.2,594.0 L178.1,595.7 L179.2,597.4 L180.4,599.2 L181.5,600.9 L182.4,602.6 L183.2,604.4 L184.1,606.1 L185.8,606.1 L187.6,606.1 L188.3,607.5 L189.0,609.0 L189.8,610.5 L190.5,611.9 L191.2,613.3 L191.9,614.8 L192.9,616.4 L194.0,617.9 L195.0,619.5 L196.1,621.0 L197.1,622.6 L198.4,624.1 L199.7,625.6 L201.0,627.1 L202.3,628.6 L203.7,630.1 L205.2,631.5 L206.6,633.0" stroke="#e00000" stroke-width="2.5" fill="none" />
<line x1="63.20" y1="518.50" x2="63.20" y2="634.50" stroke="#000" stroke-width="2" />
<line x1="62.50" y1="633.80" x2="224.00" y2="633.80" stroke="#000" stroke-width="2" />
<line x1="59.80" y1="527.50" x2="62.50" y2="527.50" stroke="#bbb" stroke-width="0.9" />
<line x1="59.80" y1="548.60" x2="62.50" y2="548.60" stroke="#bbb" stroke-width="0.9" />
<line x1="59.80" y1="569.80" x2="62.50" y2="569.80" stroke="#bbb" stroke-width="0.9" />
<line x1="59.80" y1="591.00" x2="62.50" y2="591.00" stroke="#bbb" stroke-width="0.9" />
<line x1="59.80" y1="612.20" x2="62.50" y2="612.20" stroke="#bbb" stroke-width="0.9" />
<line x1="68.00" y1="643.30" x2="216.50" y2="643.30" stroke="#000" stroke-width="2" />
<path d="M208.5,640.2 L217.2,643.3 L208.5,646.4" stroke="#000" stroke-width="1.9" fill="none" stroke-linejoin="round"/>
<text x="118.32" y="658.20" font-size="13.4" font-weight="normal" fill="#000" stroke="#000" stroke-width="0.2" >AnnexinV</text>
<text x="0" y="0" transform="translate(50.90,618.21) rotate(-90)" font-size="14.4" font-weight="normal" fill="#000" stroke="#000" stroke-width="0.2" >cell counts</text>
<text x="85.15" y="536.50" font-size="13.5" font-weight="normal" fill="#d41428" stroke="#d41428" stroke-width="0.3" >silent</text>
<text x="80.42" y="552.60" font-size="13.5" font-weight="normal" fill="#d41428" stroke="#d41428" stroke-width="0.3" >mutant</text>
<text x="182.79" y="536.50" font-size="13.6" font-weight="normal" fill="#000" stroke="#000" stroke-width="0.2" >Toso</text>
<text x="181.67" y="552.90" font-size="13.5" font-weight="normal" fill="#000" stroke="#000" stroke-width="0.2" >miRNA</text>
<line x1="321.60" y1="522.10" x2="321.60" y2="633.50" stroke="#000" stroke-width="2" />
<line x1="317.00" y1="632.60" x2="435.50" y2="632.60" stroke="#000" stroke-width="2" />
<line x1="316.00" y1="632.60" x2="321.60" y2="632.60" stroke="#000" stroke-width="1.7" />
<text x="0" y="0" transform="translate(307.57,636.20) scale(1.07,1)" font-size="11" font-weight="bold" fill="#000" >0</text>
<line x1="316.00" y1="584.10" x2="321.60" y2="584.10" stroke="#000" stroke-width="1.7" />
<text x="0" y="0" transform="translate(301.19,587.70) scale(1.07,1)" font-size="11" font-weight="bold" fill="#000" >20</text>
<line x1="316.00" y1="535.60" x2="321.60" y2="535.60" stroke="#000" stroke-width="1.7" />
<text x="0" y="0" transform="translate(301.19,539.20) scale(1.07,1)" font-size="11" font-weight="bold" fill="#000" >40</text>
<rect x="335.40" y="527.10" width="27.20" height="105.50" fill="#fff" stroke="#000" stroke-width="2"/>
<rect x="391.20" y="580.20" width="30.30" height="52.40" fill="#000"/>
<text x="326.45" y="647.70" font-size="13.7" font-weight="normal" fill="#000" stroke="#000" stroke-width="0.2" >Toso kd</text>
<text x="388.90" y="647.70" font-size="13.7" font-weight="normal" fill="#000" stroke="#000" stroke-width="0.2" >Toso kd</text>
<text x="385.23" y="664.00" font-size="13.9" font-weight="normal" fill="#000" stroke="#000" stroke-width="0.2" >+ sToso</text>
<text x="0" y="0" transform="translate(292.80,635.56) rotate(-90)" font-size="14.4" font-weight="normal" fill="#000" stroke="#000" stroke-width="0.2" >rel. apoptosis (%)</text>
</svg></body></html>
